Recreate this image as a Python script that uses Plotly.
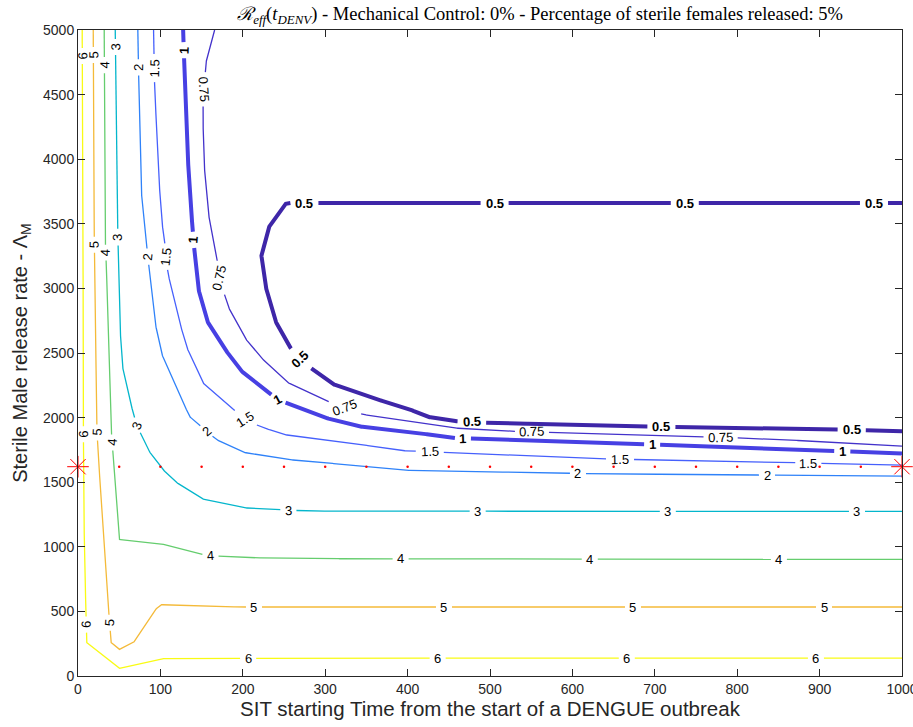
import numpy as np
import plotly.graph_objects as go

# ---------------- data ----------------
levels = [0.5, 0.75, 1, 1.5, 2, 3, 4, 5, 6]

t_06 = [5.1, 6.1, 6.7, 7.9, 10.7, 50.4, 100.2, 281, 1000]
L_06 = [5000, 3300, 1622, 902, 258, 60, 135, 138, 138]

t_05 = [18.5, 19.7, 22.8, 24.1, 37.4, 40.3, 50.4, 67.4, 93, 100.2, 154, 200.2, 1000]
L_05 = [5000, 3431, 1962, 1753, 490, 258, 206, 258, 508, 552, 539, 534, 534]

t_04 = [31.8, 33.4, 34.3, 40.3, 42.3, 50.4, 100.2, 155.7, 200.2, 281, 1000]
L_04 = [5000, 3276, 3199, 1908, 1738, 1057, 1024, 933, 916, 908, 902]

t_03 = [45.2, 48.3, 48.8, 50.4, 53.5, 62.6, 71, 84.8, 101, 117.2, 149.7, 200.2, 281, 1000]
L_03 = [5000, 3431, 3300, 2784, 2410, 2140, 1947, 1753, 1612, 1508, 1372, 1302, 1276, 1274]

t_02 = [72.6, 74.7, 76.8, 82.8, 86.9, 92.9, 101, 111.2, 135.4, 167.9, 200.2, 250.9, 281, 390.5, 633.5, 1000]
L_02 = [5000, 4265, 3750, 3364, 3120, 2757, 2503, 2348, 2008, 1830, 1732, 1676, 1663, 1593, 1565, 1547]

t_015 = [91.7, 92.9, 96.9, 101.1, 105.1, 109.1, 119.3, 131.4, 151.6, 180, 202.3, 220.5, 248.8, 329.8, 390.5, 633.5, 876.5, 1000]
L_015 = [5000, 4589, 4009, 3545, 3364, 3119, 2836, 2552, 2269, 2114, 1985, 1933, 1869, 1805, 1745, 1681, 1650, 1632]

t_01 = [127.6, 131.4, 135.4, 138.7, 141.5, 146.4, 155.7, 171.9, 196.2, 220.5, 242.7, 293.4, 338, 390.5, 455, 694.3, 925, 1000]
L_01 = [5000, 4266, 3750, 3493, 3274, 2990, 2758, 2588, 2372, 2243, 2140, 2011, 1933, 1900, 1843, 1792, 1740, 1722]

t_0075 = [165.8, 156.1, 152.5, 151.6, 152.5, 157.7, 167.9, 171.9, 182, 202.3, 220.5, 254.5, 297.4, 323.7, 346, 451.3, 524.2, 633.5, 836, 1000]
L_0075 = [5000, 4784, 4524, 4369, 4009, 3596, 3261, 3081, 2861, 2619, 2474, 2271, 2140, 2078, 2024, 1921, 1895, 1874, 1836, 1779]

t_005 = [1000, 252.9, 232.8, 222.5, 226.6, 238.7, 254.9, 269.1, 285.2, 307.6, 350.1, 398.7, 423, 451.3, 459.4, 497.8, 674, 917, 1000]
L_005 = [3661, 3661, 3493, 3261, 3042, 2758, 2565, 2449, 2372, 2263, 2165, 2075, 2006, 1985, 1972, 1960, 1933, 1908, 1895]

# contour-label anchor points (t, Lambda)
lab_06 = [(3.9, 4796), (3.9, 1869), (10, 400), (206, 140), (437, 140), (666.5, 140), (896, 140)]
lab_05 = [(17.2, 4802), (20, 3338), (22.1, 1882), (37.4, 413), (213.2, 534), (444, 534), (673.6, 534), (905.6, 534)]
lab_04 = [(31.3, 4725), (32.2, 3274), (40.3, 1805), (160.6, 910), (391.8, 910), (621.4, 910), (851, 910)]
lab_03 = [(43.1, 4864), (46.4, 3402), (72.6, 1946), (254.9, 1275), (485.3, 1275), (716.1, 1275), (945.6, 1275)]
lab_02 = [(71.9, 4709), (82.8, 3248), (153.7, 1882), (607.2, 1554), (836, 1547)]
lab_015 = [(91.7, 4705), (107.1, 3248), (202.3, 1985), (427, 1722), (657.8, 1670), (886.5, 1642)]
lab_01 = [(127.3, 4846), (137.5, 3377), (242.7, 2140), (467.4, 1836), (696.3, 1786), (927.1, 1735)]
lab_0075 = [(151.6, 4537), (174, 3081), (323.7, 2078), (550.5, 1882), (779.3, 1843)]
lab_005 = [(275.1, 3655), (505.9, 3655), (736.7, 3655), (966.4, 3655), (269.1, 2449), (477.6, 1964), (708.4, 1933), (939.3, 1902)]

# SIT reference markers
star_t = [0, 1000]
star_L = [1620, 1620]
dot_t = list(range(50, 1000, 50))
dot_L = [1620] * len(dot_t)

# ---------------- styling ----------------
colors = {0.5: '#3e26a8', 0.75: '#4332cb', 1: '#4740e3', 1.5: '#4660fc', 2: '#2f82f9',
          3: '#04b6cc', 4: '#65cd6e', 5: '#f4ba39', 6: '#f9fb14'}
widths = {0.5: 4, 0.75: 1.3, 1: 4, 1.5: 1.3, 2: 1.3, 3: 1.3, 4: 1.3, 5: 1.3, 6: 1.3}

series = [(0.5, t_005, L_005, lab_005), (0.75, t_0075, L_0075, lab_0075), (1, t_01, L_01, lab_01),
          (1.5, t_015, L_015, lab_015), (2, t_02, L_02, lab_02), (3, t_03, L_03, lab_03),
          (4, t_04, L_04, lab_04), (5, t_05, L_05, lab_05), (6, t_06, L_06, lab_06)]

W, H = 913, 727
ML, MT = 78, 30
PW, PH = 824, 646
MR = W - ML - PW
MB = H - MT - PH
KX = PW / 1000.0
KY = PH / 5000.0
FS = 13


def fmt(v):
    return ('%g' % v)


def text_width(s, bold):
    w = 0
    for c in s:
        w += (0.278 if c == '.' else 0.556) * FS
    return w * (1.05 if bold else 1.0)


fig = go.Figure()
annotations = []

for lev, ts, Ls, labs in series:
    sx = np.array(ts, float) * KX
    sy = -np.array(Ls, float) * KY
    pts = []
    for i in range(len(sx) - 1):
        n = max(1, int(np.hypot(sx[i + 1] - sx[i], sy[i + 1] - sy[i]) / 1.0))
        for k in range(n):
            f = k / n
            pts.append((sx[i] + f * (sx[i + 1] - sx[i]), sy[i] + f * (sy[i + 1] - sy[i])))
    pts.append((sx[-1], sy[-1]))
    P = np.array(pts)
    s = np.concatenate([[0], np.cumsum(np.hypot(np.diff(P[:, 0]), np.diff(P[:, 1])))])
    mask = np.zeros(len(P), bool)
    bold = lev in (0.5, 1)
    txt = fmt(lev)
    half = text_width(txt, bold) / 2 + 4
    for (lt, lL) in labs:
        d = np.hypot(P[:, 0] - lt * KX, P[:, 1] + lL * KY)
        j = int(np.argmin(d))
        mask |= np.abs(s - s[j]) < half
        j1 = max(0, int(np.searchsorted(s, s[j] - 6)))
        j2 = min(len(P) - 1, int(np.searchsorted(s, s[j] + 6)))
        dx = P[j2, 0] - P[j1, 0]
        dy = -(P[j2, 1] - P[j1, 1])
        ang = np.degrees(np.arctan2(dy, dx))
        while ang > 90:
            ang -= 180
        while ang <= -90:
            ang += 180
        annotations.append(dict(
            x=P[j, 0] / KX, y=-P[j, 1] / KY, xref='x', yref='y',
            text=('<b>%s</b>' % txt) if bold else txt, showarrow=False,
            textangle=float(ang), xanchor='center', yanchor='middle',
            font=dict(family='Liberation Sans, Arial, sans-serif', size=FS, color='#000000'),
            borderpad=0))
    xs = np.where(mask, np.nan, P[:, 0] / KX)
    ys = np.where(mask, np.nan, -P[:, 1] / KY)
    fig.add_trace(go.Scatter(x=xs, y=ys, mode='lines', connectgaps=False,
                             line=dict(color=colors[lev], width=widths[lev]),
                             hoverinfo='skip', showlegend=False))

fig.add_trace(go.Scatter(x=dot_t, y=dot_L, mode='markers',
                         marker=dict(color='red', size=2.5), showlegend=False, hoverinfo='skip'))
fig.add_trace(go.Scatter(x=star_t, y=star_L, mode='markers', cliponaxis=False,
                         marker=dict(symbol='asterisk-open', size=18, color='red',
                                     line=dict(color='red', width=1)),
                         showlegend=False, hoverinfo='skip'))

axis_common = dict(showline=True, linecolor='#262626', linewidth=1, mirror='ticks',
                   ticks='inside', ticklen=7, tickwidth=1, tickcolor='#262626',
                   showgrid=False, zeroline=False, ticklabeloverflow='allow',
                   tickfont=dict(family='Liberation Sans, Arial, sans-serif', size=14, color='#262626'))

fig.update_layout(
    width=W, height=H,
    margin=dict(l=ML, r=MR, t=MT, b=MB, autoexpand=False),
    plot_bgcolor='white', paper_bgcolor='white',
    xaxis=dict(range=[0, 1000], tickmode='linear', tick0=0, dtick=100, automargin=False,
               title=dict(text='SIT starting Time from the start of a DENGUE outbreak', standoff=4,
                          font=dict(family='Liberation Sans, Arial, sans-serif', size=20.5, color='#262626')),
               **axis_common),
    yaxis=dict(range=[0, 5000], tickmode='linear', tick0=0, dtick=500, automargin=False,
               title=dict(text='Sterile Male release rate - \u039b<sub>M</sub>', standoff=10,
                          font=dict(family='Liberation Sans, Arial, sans-serif', size=20, color='#262626')),
               **axis_common),
    title=dict(text='<i>\u211b</i><sub><i>eff</i></sub>(<i>t</i><sub><i>DENV</i></sub>) - Mechanical Control: 0% - Percentage of sterile females released: 5%',
               x=540 / W, xanchor='center', xref='container', y=1 - 14 / H, yref='container', yanchor='middle',
               font=dict(family='Liberation Serif, DejaVu Serif, serif', size=18.5, color='#000000')),
    annotations=annotations,
)

fig.write_html('out.html', config={'displayModeBar': False},
               post_script="document.body.style.margin='0px';document.body.style.overflow='hidden';")
